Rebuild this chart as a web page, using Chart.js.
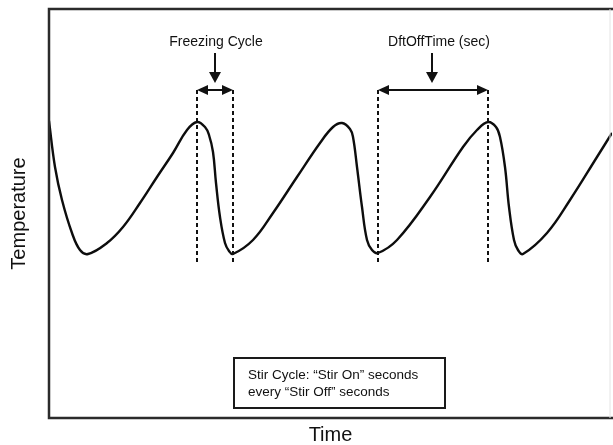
<!DOCTYPE html>
<html>
<head>
<meta charset="utf-8">
<script src="https://cdn.jsdelivr.net/npm/chart.js@4.4.1/dist/chart.umd.min.js"></script>
<style>
  html, body { margin: 0; padding: 0; background: #ffffff; }
  #wrap { width: 613px; height: 445px; }
</style>
</head>
<body>
<div id="wrap"><canvas id="c" width="613" height="445"></canvas></div>
<script>
// ---- data (time units, temperature units) ----
const times = [0, 6, 13, 23, 31, 39,
  58, 74, 91, 108, 124, 138, 148,
  156, 160, 164, 167, 171, 176, 180, 184,
  204, 224, 248, 271, 284, 293,
  301, 304, 308, 313, 318, 323, 329,
  348, 381, 414, 428, 439,
  447, 451, 456, 460, 465, 469, 474,
  498, 521, 548, 563];
const temps = [297, 251, 218, 185, 168, 164,
  175, 191, 215, 241, 265, 288, 296,
  291, 283, 266, 235, 201, 175, 167, 164,
  178, 205, 241, 275, 291, 295,
  289, 281, 251, 211, 178, 168, 165,
  178, 221, 271, 288, 296,
  291, 281, 251, 211, 178, 168, 164,
  185, 218, 261, 285];

const axisTitles = ['Time', 'Temperature'];
const spanLabels = ['Freezing Cycle', 'DftOffTime (sec)'];
const spanStarts = [148, 329];
const spanEnds = [184, 439];
const labelTimes = [167, 390];
const arrowTimes = [166, 383];
const spanLevel = 328;      // temperature level of the double arrows
const markerBottom = 155;   // lower end of dashed markers
const arrowTop = 365;
const arrowTip = 335;
const labelLevel = 376;
const stirNote = ['Stir Cycle: \u201CStir On\u201D seconds', 'every \u201CStir Off\u201D seconds'];
const noteBox = { t0: 185, t1: 396, T0: 10, T1: 60 };

const FONT = '"Liberation Sans", Arial, Helvetica, sans-serif';

const annotations = {
  id: 'annotations',
  beforeDraw(chart) {
    const ctx = chart.ctx;
    ctx.save();
    ctx.fillStyle = '#ffffff';
    ctx.fillRect(0, 0, chart.width, chart.height);
    ctx.restore();
  },
  afterDatasetsDraw(chart) {
    const ctx = chart.ctx;
    const xs = chart.scales.x, ys = chart.scales.y;
    const a = chart.chartArea;
    ctx.save();
    // frame
    ctx.strokeStyle = '#2b2b2b';
    ctx.lineWidth = 2.5;
    ctx.beginPath();
    ctx.moveTo(chart.width, a.top);
    ctx.lineTo(a.left, a.top);
    ctx.lineTo(a.left, a.bottom);
    ctx.lineTo(chart.width, a.bottom);
    ctx.stroke();
    ctx.strokeStyle = '#e4e4e4';
    ctx.lineWidth = 1;
    ctx.beginPath();
    ctx.moveTo(a.right - 2, a.top);
    ctx.lineTo(a.right - 2, a.bottom);
    ctx.stroke();

    ctx.strokeStyle = '#111111';
    ctx.fillStyle = '#111111';
    const yTop = ys.getPixelForValue(spanLevel);
    const yBot = ys.getPixelForValue(markerBottom);
    for (let i = 0; i < spanLabels.length; i++) {
      const x0 = xs.getPixelForValue(spanStarts[i]);
      const x1 = xs.getPixelForValue(spanEnds[i]);
      // dashed markers
      ctx.lineWidth = 2;
      ctx.setLineDash([4, 3]);
      ctx.beginPath();
      ctx.moveTo(x0, yTop); ctx.lineTo(x0, yBot);
      ctx.moveTo(x1, yTop); ctx.lineTo(x1, yBot);
      ctx.stroke();
      ctx.setLineDash([]);
      // double arrow
      const ah = 11, aw = 5;
      ctx.beginPath();
      ctx.moveTo(x0 + ah - 1, yTop); ctx.lineTo(x1 - ah + 1, yTop);
      ctx.stroke();
      ctx.beginPath();
      ctx.moveTo(x0, yTop); ctx.lineTo(x0 + ah, yTop - aw); ctx.lineTo(x0 + ah, yTop + aw); ctx.closePath();
      ctx.fill();
      ctx.beginPath();
      ctx.moveTo(x1, yTop); ctx.lineTo(x1 - ah, yTop - aw); ctx.lineTo(x1 - ah, yTop + aw); ctx.closePath();
      ctx.fill();
      // down arrow
      const xa = xs.getPixelForValue(arrowTimes[i]);
      const ya0 = ys.getPixelForValue(arrowTop);
      const ya1 = ys.getPixelForValue(arrowTip);
      ctx.beginPath();
      ctx.moveTo(xa, ya0); ctx.lineTo(xa, ya1 - 8);
      ctx.stroke();
      ctx.beginPath();
      ctx.moveTo(xa, ya1); ctx.lineTo(xa - 6, ya1 - 11); ctx.lineTo(xa + 6, ya1 - 11); ctx.closePath();
      ctx.fill();
      // label
      ctx.font = '14px ' + FONT;
      ctx.textAlign = 'center';
      ctx.textBaseline = 'middle';
      ctx.fillText(spanLabels[i], xs.getPixelForValue(labelTimes[i]), ys.getPixelForValue(labelLevel));
    }
    // note box
    const bx0 = xs.getPixelForValue(noteBox.t0), bx1 = xs.getPixelForValue(noteBox.t1);
    const by0 = ys.getPixelForValue(noteBox.T1), by1 = ys.getPixelForValue(noteBox.T0);
    ctx.lineWidth = 2;
    ctx.strokeStyle = '#1a1a1a';
    ctx.fillStyle = '#ffffff';
    ctx.fillRect(bx0, by0, bx1 - bx0, by1 - by0);
    ctx.strokeRect(bx0, by0, bx1 - bx0, by1 - by0);
    ctx.fillStyle = '#111111';
    ctx.font = '13.5px ' + FONT;
    ctx.textAlign = 'left';
    ctx.textBaseline = 'middle';
    ctx.fillText(stirNote[0], bx0 + 14, by0 + 17);
    ctx.fillText(stirNote[1], bx0 + 14, by0 + 34);
    ctx.restore();
  }
};

new Chart(document.getElementById('c'), {
  type: 'line',
  data: {
    datasets: [{
      label: 'Temperature',
      data: times.map((t, i) => ({ x: t, y: temps[i] })),
      borderColor: '#0d0d0d',
      borderWidth: 2.4,
      pointRadius: 0,
      fill: false,
      tension: 0.4
    }]
  },
  options: {
    responsive: false,
    animation: false,
    events: [],
    layout: { padding: { left: 7, right: 1, top: 9, bottom: 0 } },
    plugins: { legend: { display: false }, tooltip: { enabled: false } },
    scales: {
      x: {
        type: 'linear', min: 0, max: 563,
        grid: { display: false, drawTicks: false },
        border: { display: false },
        ticks: { display: false },
        title: { display: true, text: axisTitles[0], color: '#111111',
                 font: { family: FONT, size: 20, lineHeight: 1 }, padding: { top: 7, bottom: 0 } }
      },
      y: {
        type: 'linear', min: 0, max: 409,
        grid: { display: false, drawTicks: false },
        border: { display: false },
        ticks: { display: false },
        title: { display: true, text: axisTitles[1], color: '#111111',
                 font: { family: FONT, size: 20, lineHeight: 1.2 }, padding: { top: 0, bottom: 18 } }
      }
    }
  },
  plugins: [annotations]
});
</script>
</body>
</html>
